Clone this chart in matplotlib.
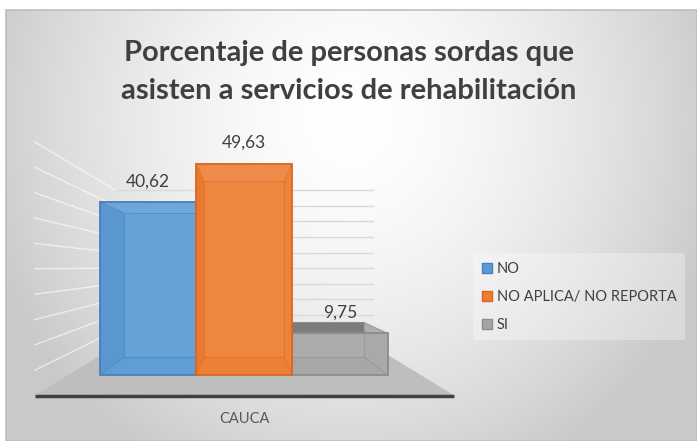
import matplotlib
matplotlib.use('Agg')
import matplotlib.pyplot as plt
import numpy as np
from matplotlib.patches import Polygon, Rectangle, Patch
from matplotlib.colors import to_rgb

plt.rcParams['font.family'] = ['Lato', 'DejaVu Sans']

# ---- data ----
categories = ['NO', 'NO APLICA/ NO REPORTA', 'SI']
values = [40.62, 49.63, 9.75]
labels = ['40,62', '49,63', '9,75']
group_label = 'CAUCA'
grid_vals = list(range(5, 55, 5))
title = 'Porcentaje de personas sordas que\nasisten a servicios de rehabilitación'

colors = ['#5B9BD5', '#ED7D31', '#A5A5A5']
edges = ['#4A7EBB', '#D9681E', '#8C8C8C']

W, H = 697, 441
fig = plt.figure(figsize=(W / 100, H / 100), dpi=100)

# background: radial gradient inside a bordered chart area
bg = fig.add_axes([0, 0, 1, 1])
bg.set_xlim(0, W)
bg.set_ylim(H, 0)
bg.axis('off')
yy, xx = np.mgrid[0:H, 0:W]
d = np.hypot((xx - 350) / 345, (yy - 120) / 360)
shade = 1 - 0.18 * np.clip(d, 0, 1.1) ** 1.6
img = np.dstack([shade] * 3)
img[:10, :] = 1
img[:, :6] = 1
bg.imshow(img, extent=(0, W, H, 0), aspect='auto', interpolation='bilinear')
bg.add_patch(Rectangle((6, 10), W - 6, H - 10, fill=False, edgecolor='#BFBFBF', lw=1.2))

# main axes: x in bar units, y in value units (linear mapping to pixels)
px_per_bar = 96.0
px_per_val = 4.26
ax = fig.add_axes([0, 0, 1, 1])
ax.set_facecolor('none')
ax.axis('off')
ax.set_xlim(1 - 244 / px_per_bar, 1 + (W - 244) / px_per_bar)
ax.set_ylim((375 - H) / px_per_val, 375 / px_per_val)

# simple perspective: vanishing point and depth scales
vp = np.array([1.0, (375 - 267) / px_per_val])
s_front_floor, s_bar_back, s_wall = 1.19, 0.833, 0.73


def proj(x, v, s):
    p = np.array([x, v], dtype=float)
    return vp + (p - vp) * s


n = len(values)
xs = np.arange(n)
xmin, xmax = -0.5 - 0.33, n - 0.5 + 0.34

# left wall and back wall gridlines
for g in grid_vals:
    a, b = proj(xmin, g, s_front_floor), proj(xmin, g, s_wall)
    ax.plot([a[0], b[0]], [a[1], b[1]], color='white', lw=1, alpha=0.6, zorder=1)
    a, b = proj(xmin, g, s_wall), proj(xmax, g, s_wall)
    ax.plot([a[0], b[0]], [a[1], b[1]], color='#D9D9D9', lw=1, zorder=1)

# floor
floor = [proj(xmin, 0, s_front_floor), proj(xmax, 0, s_front_floor),
         proj(xmax, 0, s_wall), proj(xmin, 0, s_wall)]
ax.add_patch(Polygon(floor, closed=True, facecolor='#BEBEBE', edgecolor='none', zorder=2))
ax.plot([floor[0][0], floor[1][0]], [floor[0][1], floor[1][1]], color='#404040', lw=2.5,
        solid_capstyle='butt', zorder=2)


def mix(c, f):
    r = np.array(to_rgb(c))
    if f >= 0:
        return tuple(r + (1 - r) * f)
    return tuple(r * (1 + f))


# bars: draw orange (nearest to centre) last
order = [0, 2, 1]
for k, i in enumerate(order):
    z = 3 + k * 3
    x0, x1, v = xs[i] - 0.5, xs[i] + 0.5, values[i]
    F = [proj(x0, 0, 1), proj(x1, 0, 1), proj(x1, v, 1), proj(x0, v, 1)]
    B = [proj(x0, 0, s_bar_back), proj(x1, 0, s_bar_back),
         proj(x1, v, s_bar_back), proj(x0, v, s_bar_back)]
    # back face and side faces
    ax.add_patch(Polygon(B, facecolor=mix(colors[i], 0.15), edgecolor='none', zorder=z))
    top = [F[3], F[2], B[2], B[3]]
    bot = [F[0], F[1], B[1], B[0]]
    left = [F[0], F[3], B[3], B[0]]
    right = [F[1], F[2], B[2], B[1]]
    top_col = mix(colors[i], 0.25) if v > vp[1] else mix(colors[i], -0.25)
    ax.add_patch(Polygon(top, facecolor=top_col, edgecolor='none', zorder=z))
    ax.add_patch(Polygon(bot, facecolor=mix(colors[i], 0.05), edgecolor='none', zorder=z))
    ax.add_patch(Polygon(left, facecolor=mix(colors[i], -0.05), edgecolor='none', zorder=z))
    ax.add_patch(Polygon(right, facecolor=mix(colors[i], 0.1), edgecolor='none', zorder=z))
    # front face
    ax.bar(xs[i], v, width=1.0, color=colors[i], alpha=0.55, edgecolor='none', zorder=z + 1)
    ax.bar(xs[i], v, width=1.0, fill=False, edgecolor=edges[i], lw=1.3, zorder=z + 2)
    # inner edges
    for a, b in zip(F, B):
        ax.plot([a[0], b[0]], [a[1], b[1]], color=edges[i], lw=0.8, alpha=0.5, zorder=z + 1)
    Bc = B + [B[0]]
    ax.plot([p[0] for p in Bc], [p[1] for p in Bc], color=edges[i], lw=0.8, alpha=0.5, zorder=z + 1)
    # data label
    ax.text(xs[i], v + 3.0, labels[i], ha='center', va='bottom', fontsize=12.5,
            color='#404040', zorder=20)

# category label
ax.text(xs[n // 2], (375 - 419) / px_per_val, group_label, ha='center', va='center',
        fontsize=10.5, color='#595959', zorder=20)

# title
fig.text(0.5, 1 - 72 / H, title, ha='center', va='center', fontsize=21, fontweight='bold',
         color='#404040', linespacing=1.55)

# legend
handles = [Patch(facecolor=colors[i], edgecolor=edges[i], lw=1) for i in range(n)]
leg = fig.legend(handles, categories, loc='upper left', bbox_to_anchor=(466 / W, 1 - 246 / H),
                 frameon=True, fontsize=10.5, handlelength=0.7, handleheight=0.7,
                 handletextpad=0.3, labelspacing=0.95, borderpad=0.6, labelcolor='#404040')
leg.get_frame().set_facecolor('white')
leg.get_frame().set_alpha(0.3)
leg.get_frame().set_edgecolor('none')

fig.savefig('out.png', dpi=100)
